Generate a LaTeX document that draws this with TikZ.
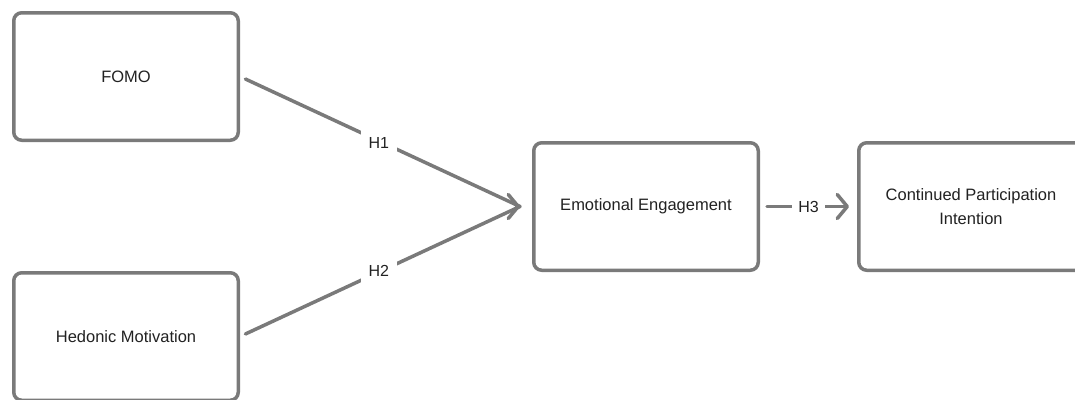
\documentclass[tikz,border=0pt]{standalone}
\usepackage{fontspec}
\setmainfont{Liberation Sans}
\usetikzlibrary{arrows.meta}
\definecolor{edgegray}{HTML}{7A7A7A}
\definecolor{textgray}{HTML}{222222}
\begin{document}
\begin{tikzpicture}[x=1pt,y=-1pt,
	box/.style={draw=edgegray,line width=3.5pt,rounded corners=8pt,fill=white,
		minimum width=224.5pt,minimum height=127.5pt,align=center,
		text=textgray,font=\fontsize{16.5}{24}\selectfont},
	line/.style={draw=edgegray,line width=3.5pt,line cap=round},
	link/.style={line,-{Straight Barb[length=10pt,width=24pt,round]}},
	hyp/.style={fill=white,text=textgray,inner sep=8pt,font=\fontsize{16}{18}\selectfont}]
	\useasboundingbox (0,0) rectangle (1075,399);
	\node[box] (fomo) at (126,76.5) {FOMO};
	\node[box] (hedonic) at (126,336.5) {Hedonic Motivation};
	\node[box] (emo) at (646,206.5) {Emotional Engagement};
	\node[box] (cpi) at (971,206.5) {Continued Participation\\Intention};
	\coordinate (merge) at ([xshift=-12pt]emo.west);
	\draw[line,shorten <=6pt] (fomo.east) -- node[hyp,pos=.496,yshift=-2pt] {H1} (merge);
	\draw[line,shorten <=6pt] (hedonic.east) -- node[hyp,pos=.496,yshift=1pt] {H2} (merge);
	\draw[link] ([xshift=-2pt]merge) -- (merge);
	\draw[link,shorten <=7pt,shorten >=8pt] (emo.east) -- node[hyp,pos=.5,inner sep=6pt] {H3} (cpi.west);
\end{tikzpicture}
\end{document}
